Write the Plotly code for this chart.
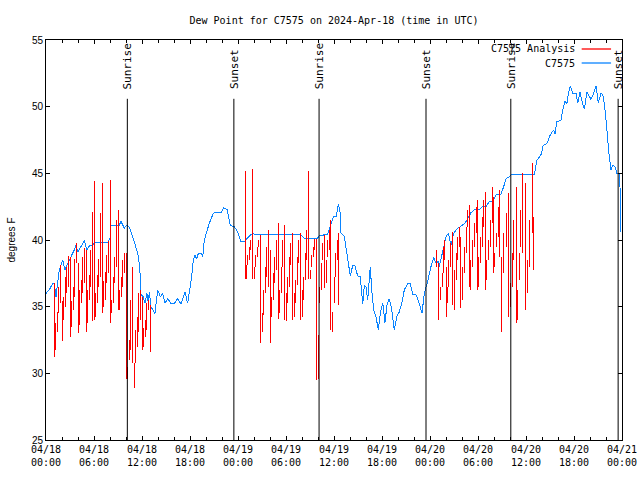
import plotly.graph_objects as go
import pandas as pd

title_text = "Dew Point for C7575 on 2024-Apr-18 (time in UTC)"
base = pd.Timestamp("2024-04-18 00:00")

# Observations (hours since 04/18 00:00 UTC, deg F)
blue_h = [0.0, 0.41, 0.84, 1.04, 1.25, 1.46, 1.66, 2.09, 2.37, 2.71, 3.21, 3.54, 3.75, 3.96, 4.37, 4.79,
          5.09, 5.41, 5.84, 6.04, 7.71, 8.0, 8.12, 9.16, 9.37, 9.79, 10.12, 10.41, 10.84, 11.12, 11.46,
          11.66, 11.79, 11.87, 12.16, 12.37, 12.62, 12.79, 12.91, 13.12, 13.62, 13.96, 14.29, 14.59,
          14.87, 15.21, 15.62, 16.04, 16.46, 16.87, 17.37, 17.71, 18.0, 18.21, 18.41, 18.62, 18.84,
          19.04, 19.37, 19.59, 19.79, 20.09, 20.41, 20.84, 21.12, 21.96, 22.21, 22.62, 23.04, 23.54,
          23.96, 24.29, 24.37, 24.87, 25.12, 25.62, 25.84, 31.87, 32.29, 33.87, 34.16, 35.21, 35.62,
          35.96, 36.29, 36.54, 36.79, 36.87, 37.29, 37.71, 38.04, 38.34, 38.62, 38.96, 39.29, 39.59,
          39.79, 40.0, 40.21, 40.54, 40.71, 40.96, 41.25, 41.54, 41.79, 42.09, 42.37, 42.62, 42.91,
          43.21, 43.54, 43.84, 44.16, 44.46, 44.79, 45.21, 45.54, 45.84, 46.25, 46.66, 47.0, 47.29,
          47.71, 48.12, 48.46, 48.75, 49.04, 49.16, 49.37, 49.71, 50.0, 50.29, 50.62, 50.96, 51.46,
          51.79, 52.09, 52.37, 52.71, 53.12, 53.54, 54.16, 54.59, 55.0, 55.41, 55.84, 56.25, 56.87,
          57.21, 57.5, 57.91, 58.21, 61.04, 61.37, 61.66, 61.96, 62.09, 62.62, 63.04, 63.46, 63.62,
          63.87, 64.37, 64.59, 64.87, 65.12, 65.29, 65.54, 65.84, 66.25, 66.46, 66.75, 67.0, 67.29,
          67.62, 67.91, 68.12, 68.46, 68.75, 69.04, 69.37, 69.59, 69.79, 70.0, 70.21, 70.41, 70.62,
          70.84, 71.12, 71.37, 71.66, 71.75, 71.81, 71.87]
blue_v = [36.0, 36.25, 36.75, 36.75, 35.75, 36.75, 37.75, 38.5, 37.75, 38.25, 38.8, 39.25, 39.6, 39.1, 39.5, 39.95,
          39.25, 39.55, 39.6, 39.8, 39.8, 40.15, 41.05, 41.1, 41.4, 40.9, 41.1, 40.95, 40.25, 39.6, 39.0,
          38.25, 37.25, 35.9, 35.75, 35.25, 36.0, 35.25, 36.1, 35.0, 34.5, 36.25, 35.75, 36.0,
          35.25, 35.6, 35.25, 35.25, 35.6, 35.2, 36.1, 35.25, 36.25, 37.25, 38.5, 38.9, 38.55,
          39.0, 39.0, 38.75, 40.0, 40.6, 41.25, 41.9, 42.1, 42.1, 42.4, 42.3, 41.1, 41.0,
          40.6, 40.0, 39.9, 39.9, 40.1, 40.4, 40.45, 40.4, 40.1, 40.1, 40.3, 40.45, 41.25,
          41.8, 41.8, 42.7, 42.0, 40.55, 40.25, 38.75, 37.3, 38.1, 38.05, 37.3, 37.25, 35.2,
          36.6, 36.5, 35.5, 38.0, 36.25, 34.75, 34.25, 33.25, 34.5, 35.3, 33.8, 35.1, 35.6,
          34.8, 33.25, 34.25, 34.6, 35.25, 36.25, 36.75, 36.75, 35.9, 35.9, 35.25, 34.5, 36.0,
          36.9, 38.0, 38.7, 38.25, 38.4, 38.0, 38.6, 39.5, 40.25, 40.5, 39.6, 40.5, 40.9,
          41.0, 41.1, 41.25, 41.6, 42.05, 42.25, 42.3, 42.5, 42.5, 42.9, 42.9, 43.4, 43.45,
          44.0, 44.6, 44.75, 44.9, 44.9, 46.0, 46.2, 46.5, 47.05, 47.25, 47.9, 48.25, 47.95,
          48.9, 48.95, 49.75, 50.4, 50.25, 51.0, 51.55, 51.0, 51.0, 50.25, 51.1, 50.4, 49.8,
          51.1, 50.75, 50.55, 51.0, 51.55, 50.3, 51.0, 50.9, 50.25, 49.0, 47.25, 46.25, 45.25,
          45.6, 45.5, 45.0, 45.0, 44.0, 41.8, 40.6]

# Analysis: each sample is drawn from its low to its high value (hours, deg F)
red_h = [1.0, 1.2, 1.4, 1.6, 1.8, 2.0, 2.2, 2.4, 2.6, 2.8, 3.0, 3.2, 3.4, 3.6, 3.8,
         4.0, 4.2, 4.4, 4.6, 4.8, 5.0, 5.2, 5.4, 5.6, 5.8, 6.0, 6.2, 6.4, 6.6, 6.8,
         7.0, 7.2, 7.4, 7.6, 7.8, 8.0, 8.2, 8.4, 8.6, 8.8, 9.0, 9.2, 9.4, 9.6, 9.8,
         10.0, 10.2, 10.4, 10.6, 10.8, 11.0, 11.2, 11.4, 11.6, 11.8, 12.0, 12.2, 12.4, 12.6, 12.8, 13.0,
         24.92, 25.08, 25.2, 25.4, 25.6, 25.8, 26.0, 26.2, 26.4, 26.6, 26.8, 27.0, 27.2, 27.4, 27.6,
         27.8, 28.0, 28.2, 28.4, 28.6, 28.8, 29.0, 29.2, 29.4, 29.6, 29.8, 30.0, 30.2, 30.4, 30.6,
         30.8, 31.0, 31.2, 31.4, 31.6, 31.8, 32.0, 32.2, 32.4, 32.6, 32.8, 33.0, 33.2, 33.4, 33.6,
         33.8, 34.0, 34.2, 34.4, 34.6, 34.8, 35.0, 35.2, 35.4, 35.6, 35.8, 36.0, 36.2, 36.4, 36.6,
         48.8, 49.0, 49.3, 49.5, 49.7, 49.8, 50.0, 50.15, 50.3, 50.55, 50.8, 51.05, 51.25, 51.45, 51.65,
         51.85, 52.1, 52.3, 52.5, 52.7, 52.9, 53.1, 53.3, 53.5, 53.75, 53.9, 54.05, 54.3, 54.5, 54.7,
         54.9, 55.1, 55.35, 55.55, 55.75, 55.95, 56.1, 56.3, 56.5, 56.7, 56.95, 57.2, 57.5, 57.85, 58.05,
         58.25, 58.45, 58.75, 58.95, 59.15, 59.35, 59.6, 59.9, 60.2, 60.4, 60.75, 60.95]
red_lo = [31.25, 31.75, 33.1, 34.5, 35.25, 32.4, 34.0, 35.0, 36.0, 36.5, 32.75, 33.5, 34.75, 35.75, 38.25,
          33.0, 33.6, 35.25, 36.0, 36.75, 33.1, 33.75, 35.5, 36.5, 33.9, 34.0, 34.25, 35.25, 36.5, 37.25,
          34.5, 35.0, 35.5, 36.75, 37.5, 33.75, 34.5, 35.25, 36.75, 38.0, 34.75, 34.75, 35.75, 36.5, 37.5,
          29.6, 29.6, 31.0, 31.75, 30.75, 28.9, 30.75, 32.0, 33.1, 34.0, 31.75, 32.0, 32.75, 33.25, 34.75, 31.6,
          37.1, 37.1, 38.1, 38.5, 39.25, 37.1, 37.1, 38.0, 38.75, 39.5, 32.25, 33.1, 34.4, 36.0, 37.25,
          36.5, 32.25, 34.25, 35.5, 36.75, 37.75, 34.1, 34.5, 36.0, 38.0, 34.0, 33.9, 35.25, 36.5, 38.1,
          34.0, 34.25, 35.25, 36.6, 38.25, 34.0, 34.25, 35.5, 37.0, 38.5, 37.1, 37.1, 38.0, 38.75, 39.25,
          29.5, 29.6, 35.25, 36.25, 38.5, 36.4, 36.75, 38.75, 39.25, 33.25, 33.1, 35.25, 37.25, 38.5, 35.1,
          38.0, 34.0, 35.5, 36.5, 37.5, 38.5, 34.25, 35.25, 36.5, 38.0, 35.1, 34.75, 37.0, 38.5, 39.5,
          34.9, 35.5, 37.5, 39.0, 41.0, 36.5, 36.25, 38.0, 39.5, 40.5, 36.25, 36.5, 38.25, 39.5, 41.0,
          36.25, 37.0, 38.5, 39.5, 41.25, 37.5, 38.0, 39.5, 40.25, 38.75, 33.1, 37.5, 39.5, 34.25, 35.0,
          36.5, 38.5, 33.75, 34.0, 37.0, 39.5, 39.0, 34.75, 36.0, 38.0, 40.5, 37.75]
red_hi = [36.75, 33.75, 34.6, 36.5, 38.1, 35.4, 35.75, 37.25, 38.0, 38.8, 38.75, 35.4, 36.5, 38.6, 39.75,
          38.25, 36.25, 37.0, 38.75, 39.4, 39.25, 36.25, 37.4, 39.25, 42.1, 44.4, 36.0, 37.4, 38.6, 42.0,
          44.25, 36.9, 37.6, 38.9, 39.9, 44.5, 35.5, 37.25, 38.75, 41.5, 42.25, 36.25, 37.25, 38.5, 39.0,
          39.0, 30.5, 32.5, 35.5, 38.0, 30.75, 33.25, 34.25, 36.0, 36.25, 35.75, 33.4, 34.0, 35.25, 35.5, 35.1,
          45.2, 38.1, 38.9, 39.5, 40.0, 45.3, 38.0, 38.9, 39.5, 40.0, 40.4, 34.5, 36.25, 38.0, 39.5,
          40.75, 39.25, 35.75, 37.5, 38.75, 40.0, 41.25, 36.25, 38.0, 40.0, 41.1, 36.0, 37.25, 38.75, 39.75,
          40.5, 36.0, 37.0, 38.75, 40.0, 40.5, 36.25, 37.25, 39.0, 40.75, 45.2, 37.75, 38.9, 39.5, 40.1,
          40.1, 32.9, 36.5, 38.25, 39.75, 40.4, 38.5, 40.0, 40.75, 41.5, 34.6, 37.25, 39.0, 40.0, 40.5,
          39.25, 38.25, 36.5, 37.5, 39.5, 40.0, 38.0, 36.5, 38.5, 39.75, 40.6, 37.75, 39.0, 40.25, 41.0,
          40.25, 38.0, 39.5, 41.0, 42.25, 42.6, 38.5, 40.0, 41.25, 42.5, 43.0, 38.75, 40.25, 41.75, 43.0,
          43.6, 38.5, 40.0, 41.5, 44.0, 43.25, 39.0, 40.5, 42.5, 43.75, 38.75, 40.5, 42.0, 43.5, 36.75,
          39.0, 41.5, 44.0, 36.25, 39.0, 42.25, 45.0, 44.25, 38.5, 41.5, 45.75, 41.75]

sun_times = ["2024-04-18 10:10", "2024-04-18 23:29", "2024-04-19 10:08",
             "2024-04-19 23:30", "2024-04-20 10:06", "2024-04-20 23:31"]
sun_labels = ["Sunrise", "Sunset", "Sunrise", "Sunset", "Sunrise", "Sunset"]

major_hours = [0, 6, 12, 18, 24, 30, 36, 42, 48, 54, 60, 66, 72]
major_text = ["04/18<br>00:00", "04/18<br>06:00", "04/18<br>12:00", "04/18<br>18:00",
              "04/19<br>00:00", "04/19<br>06:00", "04/19<br>12:00", "04/19<br>18:00",
              "04/20<br>00:00", "04/20<br>06:00", "04/20<br>12:00", "04/20<br>18:00",
              "04/21<br>00:00"]
y_ticks = [25, 30, 35, 40, 45, 50, 55]

def to_time(h):
    return base + pd.to_timedelta(h, unit="h")

# analysis strokes, one vertical segment per sample
rx, ry = [], []
for h, lo, hi in zip(red_h, red_lo, red_hi):
    t = to_time(h)
    rx += [t, t, None]
    ry += [lo, hi, None]

MONO = "DejaVu Sans Mono"
SANS = "Liberation Sans"
BLUE = "#0a84ff"
RED = "#ff0000"

fig = go.Figure()
fig.add_trace(go.Scatter(x=[to_time(h) for h in blue_h], y=blue_v, mode="lines",
                         line=dict(color=BLUE, width=1), name="C7575", showlegend=False,
                         hoverinfo="skip"))
fig.add_trace(go.Scatter(x=rx, y=ry, mode="lines", line=dict(color=RED, width=1),
                         name="C7575 Analysis", showlegend=False, connectgaps=False,
                         hoverinfo="skip"))

shapes = []
annotations = []
for t, lab in zip(sun_times, sun_labels):
    shapes.append(dict(type="line", xref="x", yref="paper", x0=t, x1=t, y0=0, y1=0.853,
                       line=dict(color="black", width=1)))
    annotations.append(dict(text=lab, x=t, xref="x", y=0.872, yref="paper", textangle=-90,
                            xanchor="center", yanchor="bottom", showarrow=False,
                            font=dict(family=MONO, size=11, color="black")))

# legend (text left of line sample)
leg = [("C7575 Analysis", RED, 0.9775), ("C7575", BLUE, 0.9425)]
for txt, col, yy in leg:
    annotations.append(dict(text=txt, x=0.922, xref="paper", y=yy, yref="paper", xanchor="right",
                            yanchor="middle", showarrow=False,
                            font=dict(family=MONO, size=10, color="black")))
    shapes.append(dict(type="line", xref="paper", yref="paper", x0=0.930, x1=0.981, y0=yy, y1=yy,
                       line=dict(color=col, width=1.3)))

fig.update_layout(
    width=640, height=480,
    margin=dict(l=46, r=18, t=40, b=40, autoexpand=False),
    paper_bgcolor="white", plot_bgcolor="white",
    title=dict(text=title_text, x=0.5, xref="paper", xanchor="center", y=1 - 20 / 480,
               yref="container", yanchor="middle", font=dict(family=MONO, size=10, color="black")),
    shapes=shapes, annotations=annotations, showlegend=False, hovermode=False,
)
fig.update_xaxes(
    type="date", range=[to_time(0), to_time(72)], automargin=False,
    tickmode="array", tickvals=[to_time(h) for h in major_hours], ticktext=major_text,
    ticks="inside", ticklen=4, tickcolor="black", showline=True, linecolor="black", linewidth=1,
    mirror="allticks", showgrid=False, zeroline=False,
    tickfont=dict(family=MONO, size=10, color="black"),
    minor=dict(tickmode="array", tickvals=[to_time(h) for h in range(0, 73, 2)],
               ticks="inside", ticklen=3, tickcolor="black", showgrid=False),
)
fig.update_yaxes(
    range=[25, 55], tickmode="array", tickvals=y_ticks, automargin=False,
    ticks="inside", ticklen=4, tickcolor="black", showline=True, linecolor="black", linewidth=1,
    mirror="allticks", showgrid=False, zeroline=False,
    tickfont=dict(family=SANS, size=10, color="black"),
    title=dict(text="degrees F", font=dict(family=SANS, size=10, color="black"), standoff=14),
)

post = """
document.body.style.margin = '0';
var gd = document.getElementById('{plot_id}');
function crisp() {
  document.querySelectorAll('.scatterlayer path').forEach(function (p) {
    p.style.shapeRendering = 'crispEdges';
  });
}
crisp();
if (gd && gd.on) { gd.on('plotly_afterplot', crisp); }
"""
fig.write_html("out.html", post_script=post, config={"displayModeBar": False, "staticPlot": True})
